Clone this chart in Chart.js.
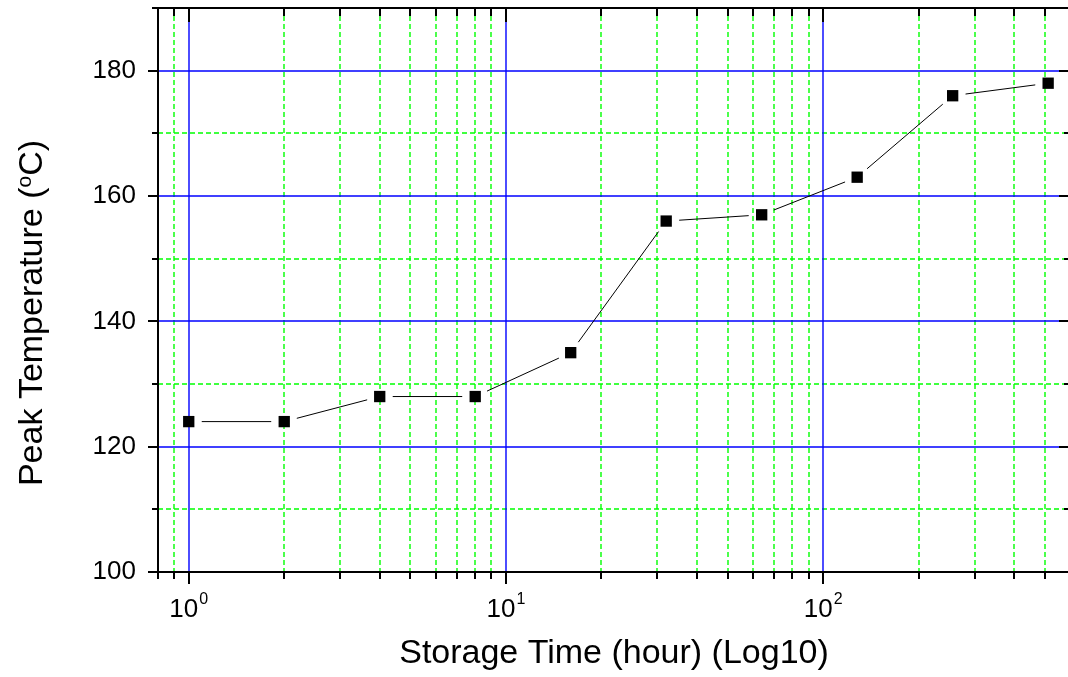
<!DOCTYPE html>
<html>
<head>
<meta charset="utf-8">
<script src="https://cdn.jsdelivr.net/npm/chart.js@4.4.0/dist/chart.umd.min.js"></script>
<style>
  html, body { margin: 0; padding: 0; overflow: hidden; background: #fff; }
  #wrap { width: 1078px; height: 677px; }
</style>
</head>
<body>
<div id="wrap"><canvas id="peakChart"></canvas></div>
<script>
// Peak temperature vs storage time
const storageHours = [1, 2, 4, 8, 16, 32, 64, 128, 256, 512];
const peakTemps = [124, 124, 128, 128, 135, 156, 157, 163, 176, 178];

// Axis ticks
const majorDecades = [1, 10, 100];
const minorHours = [0.8, 0.9, 2, 3, 4, 5, 6, 7, 8, 9, 20, 30, 40, 50, 60, 70, 80, 90, 200, 300, 400, 500];
const tempTicks = [100, 110, 120, 130, 140, 150, 160, 170, 180, 190];
const labelledTemps = [100, 120, 140, 160, 180];

const FONT = '"Liberation Sans", Arial, sans-serif';
const BLUE = '#0000ff';
const GREEN = '#00ff00';
const GAP = 13;

Chart.defaults.font.family = FONT;
Chart.defaults.color = '#000';

// blue solid major grid, green dashed minor grid
const gridLines = {
    id: 'gridLines',
    beforeDatasetsDraw(chart) {
        const { ctx, chartArea: a, scales: { x, y } } = chart;
        ctx.save();
        ctx.lineWidth = 1.4;
        const line = (x1, y1, x2, y2, color, dash) => {
            ctx.strokeStyle = color;
            ctx.setLineDash(dash);
            ctx.beginPath();
            ctx.moveTo(x1, y1);
            ctx.lineTo(x2, y2);
            ctx.stroke();
        };
        minorHours.forEach(v => {
            if (v <= x.min) return;
            const px = Math.round(x.getPixelForValue(v));
            line(px, a.top, px, a.bottom, GREEN, [5, 3]);
        });
        tempTicks.forEach(v => {
            if (v <= y.min || v >= y.max || labelledTemps.includes(v)) return;
            const py = Math.round(y.getPixelForValue(v));
            line(a.left, py, a.right, py, GREEN, [5, 3]);
        });
        majorDecades.forEach(v => {
            const px = Math.round(x.getPixelForValue(v));
            line(px, a.top, px, a.bottom, BLUE, []);
        });
        labelledTemps.forEach(v => {
            if (v <= y.min) return;
            const py = Math.round(y.getPixelForValue(v));
            line(a.left, py, a.right, py, BLUE, []);
        });
        ctx.restore();
    }
};

// connecting segments stop short of each marker
const gappedLine = {
    id: 'gappedLine',
    beforeDatasetsDraw(chart) {
        const ctx = chart.ctx;
        const pts = chart.getDatasetMeta(0).data;
        ctx.save();
        ctx.strokeStyle = '#000';
        ctx.lineWidth = 1;
        ctx.beginPath();
        for (let i = 1; i < pts.length; i++) {
            const p = pts[i - 1], q = pts[i];
            const dx = q.x - p.x, dy = q.y - p.y;
            const len = Math.hypot(dx, dy);
            if (len <= 2 * GAP) continue;
            const ux = dx / len, uy = dy / len;
            ctx.moveTo(p.x + ux * GAP, p.y + uy * GAP);
            ctx.lineTo(q.x - ux * GAP, q.y - uy * GAP);
        }
        ctx.stroke();
        ctx.restore();
    }
};

// box frame, tick marks, decade labels and y title
const frame = {
    id: 'frame',
    afterDatasetsDraw(chart) {
        const { ctx, chartArea: a, scales: { x, y } } = chart;
        ctx.save();
        ctx.strokeStyle = '#000';
        ctx.lineWidth = 2;
        ctx.strokeRect(a.left, a.top, a.right - a.left, a.bottom - a.top);

        ctx.beginPath();
        majorDecades.concat(minorHours).forEach(v => {
            const px = Math.round(x.getPixelForValue(v));
            const major = majorDecades.includes(v);
            ctx.moveTo(px, a.bottom); ctx.lineTo(px, a.bottom + (major ? 12 : 7));
            ctx.moveTo(px, a.top); ctx.lineTo(px, a.top + (major ? 14 : 8));
        });
        tempTicks.forEach(v => {
            const py = Math.round(y.getPixelForValue(v));
            const major = labelledTemps.includes(v);
            ctx.moveTo(a.left, py); ctx.lineTo(a.left - (major ? 10 : 6), py);
            ctx.moveTo(a.right, py); ctx.lineTo(a.right - (major ? 11 : 6), py);
        });
        ctx.stroke();

        // 10^n labels under the bottom axis
        ctx.fillStyle = '#000';
        ctx.textBaseline = 'alphabetic';
        ctx.textAlign = 'left';
        majorDecades.forEach(v => {
            const px = x.getPixelForValue(v);
            const exp = String(Math.round(Math.log10(v)));
            ctx.font = '26px ' + FONT;
            const wb = ctx.measureText('10').width;
            ctx.font = '16px ' + FONT;
            const we = ctx.measureText(exp).width;
            const start = px - (wb + we + 1) / 2;
            ctx.font = '26px ' + FONT;
            ctx.fillText('10', start, 617);
            ctx.font = '16px ' + FONT;
            ctx.fillText(exp, start + wb + 1, 604);
        });

        // rotated y title with a raised degree "o"
        ctx.translate(33, 313);
        ctx.rotate(-Math.PI / 2);
        ctx.textBaseline = 'middle';
        const head = 'Peak Temperature (', tail = 'C)';
        ctx.font = '34px ' + FONT;
        const wh = ctx.measureText(head).width;
        const wt = ctx.measureText(tail).width;
        ctx.font = '21px ' + FONT;
        const wo = ctx.measureText('o').width;
        let cx = -(wh + wo + wt) / 2;
        ctx.font = '34px ' + FONT;
        ctx.fillText(head, cx, 0);
        cx += wh;
        ctx.font = '21px ' + FONT;
        ctx.fillText('o', cx, -8);
        cx += wo;
        ctx.font = '34px ' + FONT;
        ctx.fillText(tail, cx, 0);
        ctx.restore();
    }
};

new Chart(document.getElementById('peakChart'), {
    type: 'scatter',
    data: {
        datasets: [{
            data: storageHours.map((h, i) => ({ x: h, y: peakTemps[i] })),
            showLine: false,
            pointStyle: 'rect',
            pointRadius: 8,
            pointHoverRadius: 8,
            pointBackgroundColor: '#000',
            pointBorderWidth: 0
        }]
    },
    options: {
        responsive: true,
        maintainAspectRatio: false,
        animation: false,
        layout: { padding: { top: 8, right: 0, left: 0, bottom: 0 } },
        plugins: { legend: { display: false }, tooltip: { enabled: false } },
        scales: {
            x: {
                type: 'logarithmic',
                min: 0.8,
                max: 600,
                afterFit: s => { s.height = 105; s.paddingLeft = 0; s.paddingRight = 0; },
                ticks: { display: false },
                grid: { display: false, drawTicks: false },
                border: { display: false },
                title: {
                    display: true,
                    text: 'Storage Time (hour) (Log10)',
                    font: { size: 34 },
                    color: '#000',
                    padding: { top: 0, bottom: 3 }
                }
            },
            y: {
                min: 100,
                max: 190,
                afterBuildTicks: s => { s.ticks = tempTicks.map(v => ({ value: v })); },
                afterFit: s => { s.width = 158; s.paddingTop = 0; s.paddingBottom = 0; },
                ticks: {
                    padding: 22,
                    font: { size: 26 },
                    color: '#000',
                    callback: v => labelledTemps.includes(v) ? String(v) : null
                },
                grid: { display: false, drawTicks: false },
                border: { display: false }
            }
        }
    },
    plugins: [gridLines, gappedLine, frame]
});
</script>
</body>
</html>
